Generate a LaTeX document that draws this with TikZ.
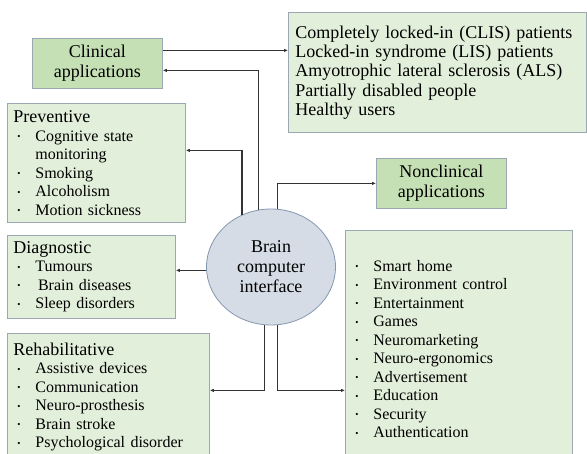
\documentclass[tikz,border=0pt]{standalone}
\usepackage{fontspec}
\setmainfont{Liberation Serif}
\usepackage{xcolor}
\usetikzlibrary{shapes,arrows.meta,positioning,calc}

\definecolor{leaffill}{HTML}{E2EFDA}
\definecolor{headfill}{HTML}{C5E0B4}
\definecolor{hubfill}{HTML}{D6DCE5}
\definecolor{boxline}{HTML}{9BA8B4}
\definecolor{hubline}{HTML}{8497B0}
\definecolor{wirecol}{HTML}{333333}

\newcommand{\itm}[1]{\makebox[22pt][l]{\hspace{4pt}\raisebox{1.5pt}{\fontsize{9}{9}\selectfont\textbullet}}#1}
\newcommand{\cont}[1]{\hspace*{22pt}#1}
\newcommand{\ttl}[1]{{\fontsize{18}{18.5}\selectfont #1}}

\tikzset{
  leaf/.style={rectangle, draw=boxline, fill=leaffill, line width=0.8pt, anchor=north west,
    align=left, inner sep=6pt, font=\fontsize{16}{18.5}\selectfont},
  head/.style={rectangle, draw=boxline, fill=headfill, line width=0.8pt, anchor=north west,
    align=center, font=\fontsize{18}{20}\selectfont, minimum width=130pt, minimum height=50pt},
  hub/.style={ellipse, draw=hubline, fill=hubfill, line width=0.8pt, minimum width=129pt,
    minimum height=116pt, align=center, inner sep=0pt, font=\fontsize{18}{20}\selectfont},
  wire/.style={draw=wirecol, line width=1.1pt, -{Latex[length=4pt,width=3.5pt]}}
}

\begin{document}
\begin{tikzpicture}[x=1pt, y=-1pt]
    \useasboundingbox (0,0) rectangle (587,453);
    \clip (0,0) rectangle (587,453);

    % Hub
    \node[hub] (bci) at (271,267) {Brain\\computer\\interface};

    % Application groups
    \node[head] (clin) at (32,38) {Clinical\\applications};
    \node[head] (nonclin) at (376,158) {Nonclinical\\applications};

    % Users
    \node[leaf, inner xsep=7pt, text width=284pt, minimum height=120pt, font=\fontsize{18}{19.3}\selectfont] (users) at (288,12)
        {Completely locked-in (CLIS) patients\\Locked-in syndrome (LIS) patients\\Amyotrophic lateral sclerosis (ALS)\\Partially disabled people\\Healthy users};

    % Clinical branches
    \node[leaf, text width=166pt, minimum height=119pt] (prev) at (7,103)
        {\ttl{Preventive}\\\itm{Cognitive state}\\\cont{monitoring}\\\itm{Smoking}\\\itm{Alcoholism}\\\itm{Motion sickness}};
    \node[leaf, text width=156pt, minimum height=82pt] (diag) at (7,235)
        {\ttl{Diagnostic}\\\itm{Tumours}\\\itm{\,Brain diseases}\\\itm{Sleep disorders}};
    \node[leaf, text width=190pt, minimum height=127pt] (rehab) at (7,333)
        {\ttl{Rehabilitative}\\\itm{Assistive devices}\\\itm{Communication}\\\itm{Neuro-prosthesis}\\\itm{Brain stroke}\\\itm{Psychological disorder}};

    % Nonclinical list
    \node[leaf, text width=215pt, minimum height=237pt] (apps) at (345,230)
        {\itm{Smart home}\\\itm{Environment control}\\\itm{Entertainment}\\\itm{Games}\\\itm{Neuromarketing}\\\itm{Neuro-ergonomics}\\\itm{Advertisement}\\\itm{Education}\\\itm{Security}\\\itm{Authentication}};

    % Connectors
    \draw[wire] ([yshift=13pt]clin.east) -- ([yshift=22pt]users.west);
    \draw[wire] (bci.102) |- ([yshift=-7pt]clin.east);
    \draw[wire] (bci.119) |- ([yshift=12.5pt]prev.east);
    \draw[wire] (bci.84) |- (nonclin.west);
    \draw[wire] (bci.183) -- (bci.183 -| diag.east);
    \draw[wire] (bci.264) |- ([yshift=6.5pt]rehab.east);
    \draw[wire] (bci.276) |- ([yshift=-41.5pt]apps.west);
\end{tikzpicture}
\end{document}
